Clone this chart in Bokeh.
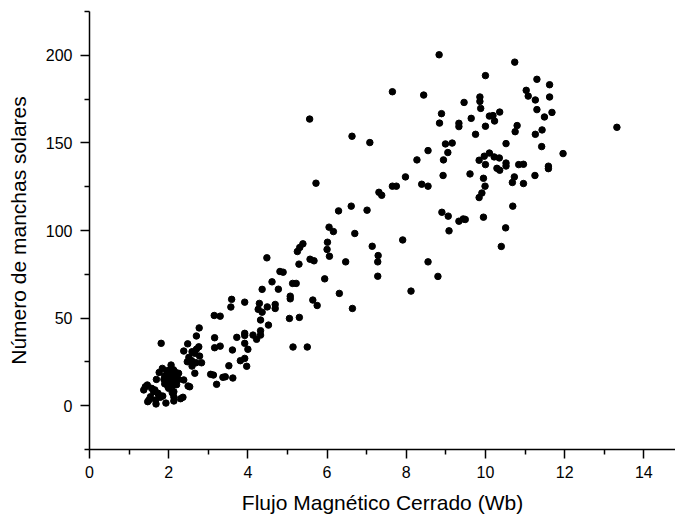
from bokeh.plotting import figure
from bokeh.models import Range1d, FixedTicker
from bokeh.embed import file_html
from bokeh.resources import INLINE

# Flujo magnético cerrado (Wb) vs número de manchas solares
flujo = [
    8.83, 10.74, 10.00, 11.30, 11.62, 7.65, 8.44, 11.03, 11.08, 11.26,
    11.62, 9.86, 9.86, 9.46, 9.88, 8.89, 8.84, 9.33, 9.33, 9.64,
    10.10, 10.19, 10.23, 10.36, 11.30, 11.68, 11.49, 10.00, 10.80, 10.75,
    11.43, 11.26, 9.75, 13.32, 6.63, 7.08, 11.42, 11.96, 10.52, 8.99,
    9.16, 9.05, 8.55, 8.27, 8.94, 8.93, 7.98, 7.65, 7.75, 7.31,
    7.38, 8.39, 8.55, 6.29, 6.61, 7.01, 6.16, 6.05, 6.70, 7.91,
    7.14, 7.29, 9.84, 9.97, 10.10, 10.22, 10.35, 10.00, 10.52, 10.52,
    10.29, 10.36, 10.84, 10.96, 11.59, 11.59, 11.25, 10.73, 10.68, 10.96,
    9.61, 9.95, 9.99, 9.91, 9.84, 10.69, 8.90, 9.06, 9.33, 9.44,
    9.49, 9.95, 9.08, 10.51, 10.40,
    6.47, 7.28, 7.28, 8.55, 8.80, 6.31, 6.64, 8.12, 5.56, 5.72,
    5.39, 5.31, 5.25, 6.01, 6.00, 6.06, 5.57, 5.67, 5.29, 4.81,
    4.89, 5.94,
    4.48, 4.61, 5.13, 5.22, 4.36, 4.77, 5.07, 5.07, 3.59, 3.57,
    3.92, 4.29, 4.26, 4.36, 4.49, 4.69, 4.69, 5.64, 5.75, 4.32,
    4.52, 5.05, 5.30, 3.92, 3.92, 4.32, 4.32, 4.13, 4.22, 3.72,
    3.92, 4.00, 3.61, 5.14, 5.50, 3.92, 3.81, 3.97, 3.52, 3.43,
    3.62,
    3.15, 3.30, 2.77, 2.70, 3.16, 2.48, 1.81, 2.76, 2.38, 3.16,
    3.30, 2.59, 2.66, 2.70, 2.78, 2.51, 2.58, 2.69, 2.59, 2.83,
    2.47, 2.66, 3.06, 3.13, 3.37, 3.21, 2.38, 2.49, 2.53, 2.30,
    2.13, 2.36, 2.13, 2.13, 2.00, 1.93, 1.75, 1.79, 1.67, 1.50,
    1.68, 1.62, 1.57, 1.65, 1.41, 1.37, 1.46, 1.69, 1.84, 1.76,
    2.06, 1.47, 1.54, 1.85, 1.73, 2.09,
    1.90, 1.95, 2.00, 2.05, 2.10, 2.15, 2.20, 2.00, 2.10, 1.95,
    2.25, 2.05, 1.90, 2.15, 2.00, 2.10, 2.20, 2.25, 1.88, 2.05,
    2.12, 1.98,
]

manchas = [
    200.3, 196.1, 188.4, 186.3, 183.2, 179.2, 177.3, 180.0, 176.7, 174.5,
    176.2, 176.2, 173.7, 173.1, 169.7, 166.7, 161.3, 161.2, 159.3, 164.0,
    165.3, 165.6, 162.5, 167.6, 169.0, 167.4, 164.8, 159.5, 159.9, 156.4,
    157.4, 154.9, 154.9, 158.9, 153.8, 150.2, 147.9, 143.9, 149.6, 149.4,
    149.9, 144.5, 145.6, 140.3, 140.3, 131.4, 130.6, 125.3, 125.3, 121.8,
    120.1, 126.4, 125.3, 111.2, 113.9, 111.6, 99.4, 101.9, 98.3, 94.6,
    91.0, 85.7, 140.1, 142.4, 144.2, 142.0, 141.4, 137.6, 138.5, 136.8,
    135.5, 134.4, 137.6, 137.8, 136.7, 135.3, 131.4, 130.6, 127.4, 126.8,
    132.3, 129.8, 125.3, 121.4, 118.8, 113.9, 110.4, 108.2, 105.3, 106.6,
    106.3, 107.6, 99.8, 101.5, 90.9,
    82.1, 82.1, 73.9, 82.1, 73.8, 64.1, 55.5, 65.4, 163.6, 127.0,
    92.4, 90.3, 88.0, 93.3, 89.2, 85.3, 83.6, 82.7, 80.8, 76.6,
    76.2, 72.4,
    84.4, 70.7, 69.8, 69.8, 66.4, 66.5, 62.5, 61.0, 60.7, 56.3,
    59.1, 58.4, 55.0, 53.4, 56.4, 57.8, 55.5, 60.3, 57.2, 48.9,
    46.0, 49.8, 50.4, 41.3, 40.1, 42.8, 40.3, 40.3, 37.9, 39.0,
    35.6, 32.2, 31.8, 33.5, 33.5, 27.0, 25.7, 22.5, 22.8, 16.5,
    15.8,
    51.5, 51.1, 44.4, 39.8, 38.8, 35.3, 35.6, 33.6, 31.2, 33.1,
    34.0, 30.8, 29.9, 32.2, 28.3, 27.6, 25.7, 24.5, 22.6, 24.5,
    25.1, 18.5, 17.9, 17.5, 16.2, 12.2, 14.7, 11.2, 10.8, 4.0,
    2.7, 4.8, 8.0, 5.1, 9.9, 1.5, 6.1, 4.8, 3.2, 3.2,
    1.0, 8.0, 9.9, 9.0, 10.8, 9.0, 11.8, 15.0, 21.3, 19.0,
    23.2, 2.3, 5.1, 5.5, 7.1, 7.4,
    17.0, 14.5, 12.5, 18.0, 16.0, 13.5, 17.5, 19.5, 11.5, 20.0,
    15.0, 21.0, 12.5, 19.5, 15.5, 14.0, 12.0, 18.5, 15.0, 16.5,
    20.5, 11.0,
]

x_ticks = [0, 2, 4, 6, 8, 10, 12, 14]
x_minor = [1, 3, 5, 7, 9, 11, 13]
y_ticks = [0, 50, 100, 150, 200]
y_minor = [-25, 25, 75, 125, 175, 225]

x_title = "Flujo Magnético Cerrado (Wb)"
y_title = "Número de manchas solares"

FONT = "Liberation Sans"

p = figure(width=675, height=518,
           x_range=Range1d(0, 14.80), y_range=Range1d(-25, 225),
           output_backend="svg", toolbar_location=None,
           min_border_left=89, min_border_right=0,
           min_border_top=11, min_border_bottom=69)

p.grid.visible = False
p.outline_line_color = None
p.background_fill_color = "white"
p.border_fill_color = "white"

p.xaxis.ticker = FixedTicker(ticks=x_ticks, minor_ticks=x_minor)
p.yaxis.ticker = FixedTicker(ticks=y_ticks, minor_ticks=y_minor)

for ax in (p.xaxis, p.yaxis):
    ax.axis_line_color = "black"
    ax.axis_line_width = 1.5
    ax.major_tick_line_color = "black"
    ax.minor_tick_line_color = "black"
    ax.major_tick_line_width = 1.5
    ax.minor_tick_line_width = 1.5
    ax.major_tick_in = 0
    ax.major_tick_out = 9
    ax.minor_tick_in = 0
    ax.minor_tick_out = 5
    ax.major_label_text_font = FONT
    ax.major_label_text_font_size = "16px"
    ax.major_label_text_color = "black"
    ax.axis_label_text_font = FONT
    ax.axis_label_text_font_size = "21px"
    ax.axis_label_text_font_style = "normal"
    ax.axis_label_text_color = "black"

p.xaxis.axis_label = x_title
p.yaxis.axis_label = y_title
p.xaxis.major_label_standoff = 7
p.xaxis.axis_label_standoff = 10
p.yaxis.major_label_standoff = 8
p.yaxis.axis_label_standoff = 13

p.scatter(flujo, manchas, size=6.5, color="black")

open("out.html", "w").write(file_html(p, INLINE))
